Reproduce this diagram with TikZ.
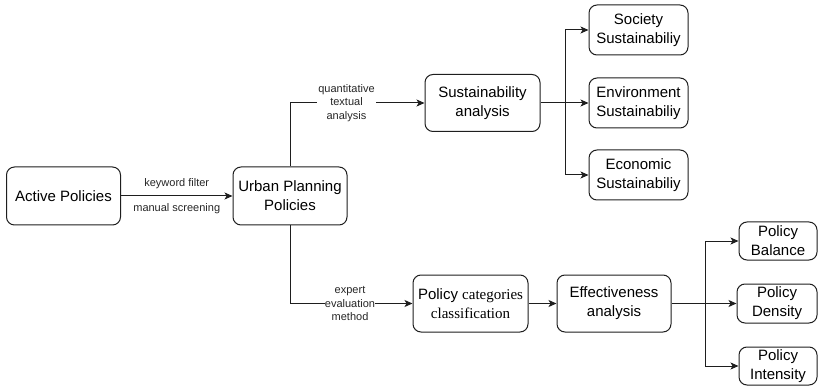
\documentclass[tikz,border=0pt]{standalone}
\usepackage{fontspec}
\setmainfont{Liberation Sans}
\newfontfamily\timesfont{Liberation Serif}
\usepackage{tikz}
\usetikzlibrary{arrows.meta,positioning}
\definecolor{darkline}{RGB}{30,30,30}
\tikzstyle{box} = [rectangle, rounded corners=8pt, draw=darkline, fill=white, line width=1pt, align=center, font=\fontsize{15}{19}\selectfont, inner sep=2pt]
\tikzstyle{arrow} = [line width=1pt, color=darkline, ->,>={Stealth[length=8pt,width=7pt,inset=2pt]}]
\tikzstyle{lbl} = [font=\fontsize{11}{13.5}\selectfont, align=center, inner sep=1pt, text=black!85]

\begin{document}
\begin{tikzpicture}[x=1pt, y=-1pt]
\useasboundingbox (0,0) rectangle (818,387);
% Left part
\node[box, minimum width=114pt, minimum height=58pt] (active) at (63.5,196) {Active Policies};
\node[box, minimum width=114pt, minimum height=58pt] (urban) at (290,196) {Urban Planning\\Policies};

% Upper branch
\node[box, minimum width=115pt, minimum height=57pt] (sust) at (482.5,103) {Sustainability\\analysis};
\node[box, minimum width=99pt, minimum height=50pt] (society) at (638.5,30) {Society\\Sustainabiliy};
\node[box, minimum width=99pt, minimum height=50pt] (environ) at (638.5,103) {Environment\\Sustainabiliy};
\node[box, minimum width=99pt, minimum height=50pt] (economic) at (638.5,175) {Economic\\Sustainabiliy};
\coordinate (sfork) at (565,103);

% Lower branch
\node[box, minimum width=115pt, minimum height=57pt] (classif) at (470.5,303.5) {Policy {\timesfont categories}\\{\timesfont classification}};
\node[box, minimum width=114pt, minimum height=57pt] (effect) at (614,303.5) {Effectiveness\\analysis};
\node[box, minimum width=78pt, minimum height=38pt] (balance) at (778,241) {Policy\\Balance};
\node[box, minimum width=80pt, minimum height=39pt] (density) at (777,303.5) {Policy\\Density};
\node[box, minimum width=78pt, minimum height=38pt] (intensity) at (778,366) {Policy\\Intensity};
\coordinate (efork) at (705,303.5);

\draw[arrow] (active) -- node[lbl, above=6pt] {keyword filter} node[lbl, below=6pt] {manual screening} (urban);
\draw[arrow] (urban.north) |- node[lbl, fill=white, pos=0.71] {quantitative\\textual\\analysis} (sust.west);
\draw[arrow] (urban.south) |- node[lbl, fill=white, inner sep=0pt, pos=0.745] {expert\\evaluation\\method} (classif.west);

\draw[line width=1pt, darkline] (sust.east) -- (sfork);
\draw[arrow] (sfork) |- (society.west);
\draw[arrow] (sfork) -- (environ.west);
\draw[arrow] (sfork) |- (economic.west);

\draw[arrow] (classif) -- (effect);
\draw[line width=1pt, darkline] (effect.east) -- (efork);
\draw[arrow] (efork) |- (balance.west);
\draw[arrow] (efork) -- (density.west);
\draw[arrow] (efork) |- (intensity.west);
\end{tikzpicture}
\end{document}
